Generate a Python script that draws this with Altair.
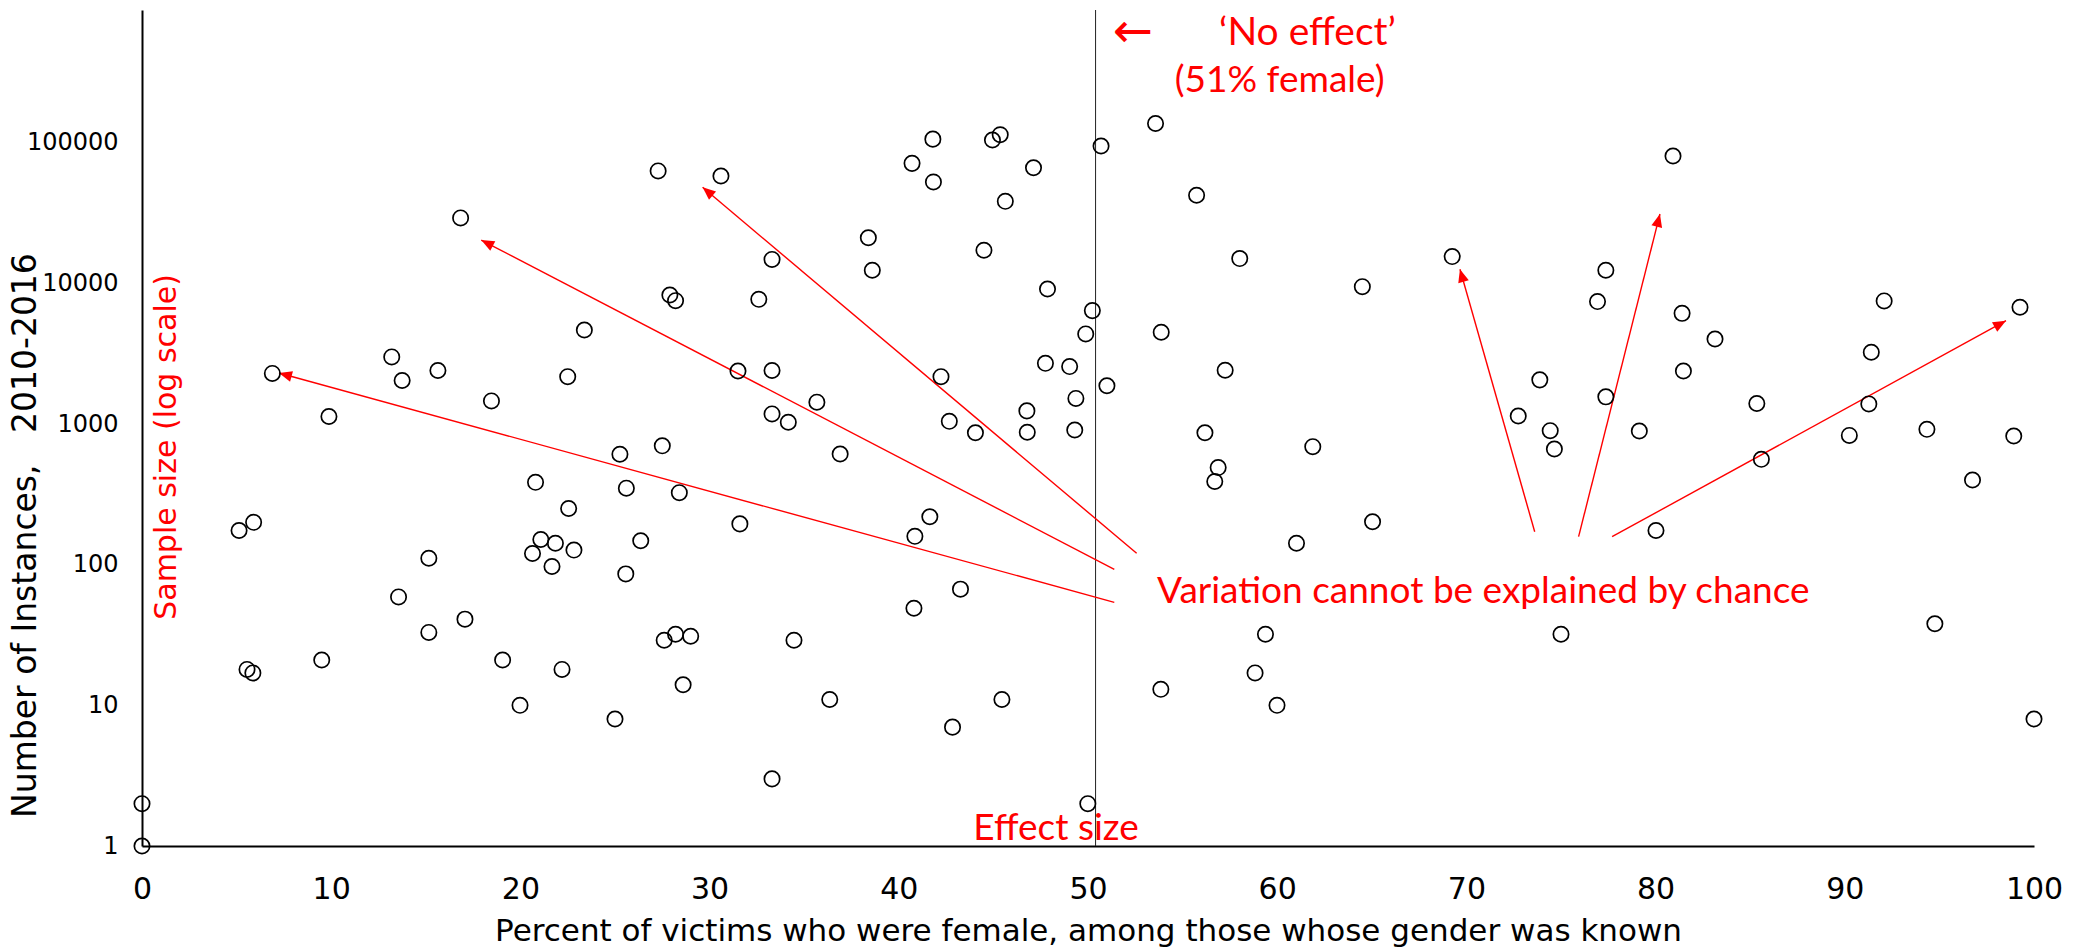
import math
import altair as alt
import pandas as pd

# ---- data ----
pct = [0, 0, 5.13, 5.9, 5.55, 5.86, 6.89, 9.88, 9.5, 13.2, 13.75, 13.56, 15.64, 15.16, 15.16,
       16.84, 17.07, 18.47, 19.06, 19.98, 20.8, 20.64, 21.08, 21.85, 21.67, 22.2, 22.5, 22.55,
       22.83, 23.38, 25.0, 25.26, 25.6, 25.57, 26.36, 27.28, 27.5, 27.6, 27.9, 28.2, 28.2, 28.4,
       28.6, 29.0, 30.6, 31.5, 31.6, 32.6, 33.3, 33.3, 33.3, 33.3, 34.16, 34.46, 35.67, 36.35,
       36.9, 38.39, 38.6, 40.7, 40.85, 40.8, 41.64, 41.8, 41.83, 42.23, 42.67, 42.84, 43.26,
       44.05, 44.5, 44.95, 45.36, 45.45, 45.63, 46.77, 46.79, 47.12, 47.75, 47.86, 49.03, 49.36,
       49.3, 49.88, 50.23, 49.99, 50.69, 51.0, 53.57, 53.85, 53.87, 55.74, 56.18, 56.7, 56.88,
       57.25, 58.02, 58.83, 59.38, 59.99, 61.02, 61.88, 64.5, 65.04, 69.25, 72.74, 73.88, 74.43,
       74.65, 75.0, 76.93, 77.37, 77.37, 79.14, 80.02, 80.92, 81.4, 81.47, 83.14, 85.35, 85.59,
       90.24, 91.27, 91.4, 92.08, 94.34, 94.76, 96.75, 98.93, 99.26, 100]
count = [2, 1, 175, 200, 18, 17, 2290, 1130, 21, 3000, 2040, 59, 2400, 111, 33,
         29200, 41, 1460, 21, 10, 385, 120, 151, 142, 97, 18, 2170, 251,
         127, 4660, 8, 610, 350, 86, 148, 63000, 700, 29, 8260, 7530, 32, 325,
         14, 31, 58000, 2380, 195, 7700, 14800, 2400, 1180, 3, 1030, 29, 1430, 11,
         612, 21100, 12400, 71300, 159, 49, 219, 106000, 52600, 2170, 1045, 7, 67,
         867, 17200, 104500, 114000, 11, 38300, 1240, 874, 66400, 2700, 9120, 2560, 1520,
         907, 4370, 6400, 2, 94800, 1870, 137000, 13, 4490, 42300, 867, 390, 490,
         2410, 15000, 17, 32, 10, 142, 690, 9470, 202, 15500, 1140, 2060, 897,
         664, 32, 7420, 12400, 1560, 892, 175, 80400, 6120, 2380, 4020, 1400, 561,
         830, 1390, 3240, 7500, 917, 38, 400, 822, 6760, 8]

x_ticks = [0, 10, 20, 30, 40, 50, 60, 70, 80, 90, 100]
y_ticks = [1, 10, 100, 1000, 10000, 100000]

no_effect_pct = [50.4]

# annotation arrows (data units)
arrow_start_pct = [51.39, 51.39, 52.57, 73.61, 75.93, 77.70]
arrow_start_count = [54.0, 92.7, 120.5, 171.6, 158.1, 158.1]
arrow_tip_pct = [7.24, 17.93, 29.63, 69.66, 80.23, 98.52]
arrow_tip_count = [2305, 20330, 48200, 12590, 31120, 5428]

# annotation texts (data units)
calibri_text = ["Variation cannot be explained by chance", "Effect size", "\u2018No effect\u2019", "(51% female)"]
calibri_pct = [53.65, 48.31, 61.6, 60.13]
calibri_count = [53.2, 1.103, 495000, 230300]
calibri_align = ["left", "center", "center", "center"]
calibri_size = [37, 37, 39, 37]

W, H = 1892, 836
YMAX = 877800

x_scale = alt.Scale(domain=[0, 100], nice=False, zero=False)
y_scale = alt.Scale(type="log", domain=[1, YMAX], nice=False)

x_axis = alt.Axis(
    values=x_ticks, title="Percent of victims who were female, among those whose gender was known",
    labelFont="DejaVu Sans", labelFontSize=30, labelColor="black", labelPadding=28,
    labelFlush=False, labelOverlap=False, ticks=False, tickSize=0, grid=False,
    domainColor="black", domainWidth=2,
    titleFont="DejaVu Sans", titleFontSize=31, titleFontWeight="normal", titleColor="black",
    titleY=94, titleBaseline="alphabetic",
)
y_axis = alt.Axis(
    values=y_ticks, format="d", title="Number of Instances,\u00a0\u00a0\u00a02010-2016",
    labelFont="DejaVu Sans", labelFontSize=24, labelColor="black", labelPadding=24,
    labelFlush=False, labelOverlap=False, ticks=False, tickSize=0, grid=False,
    domainColor="black", domainWidth=2,
    titleFont="DejaVu Sans", titleFontSize=33, titleFontWeight="normal", titleColor="black",
    titleAngle=270, titleX=-107, titleY=525, titleAlign="center", titleBaseline="alphabetic",
)

X = lambda f: alt.X(f, type="quantitative", scale=x_scale, axis=x_axis)
Y = lambda f: alt.Y(f, type="quantitative", scale=y_scale, axis=y_axis)

pts = pd.DataFrame({"pct": pct, "count": count})
points = alt.Chart(pts).mark_point(
    shape="circle", filled=False, stroke="black", strokeWidth=1.7, size=235, opacity=1
).encode(x=X("pct"), y=Y("count"))

vline = alt.Chart(pd.DataFrame({"pct": no_effect_pct})).mark_rule(
    color="#222222", strokeWidth=1
).encode(x=X("pct"))

# arrows
def px(v):
    return v / 100.0 * W

def py(c):
    return H * (1 - math.log10(c) / math.log10(YMAX))

angles = []
for sp, sc, tp, tc in zip(arrow_start_pct, arrow_start_count, arrow_tip_pct, arrow_tip_count):
    dx = px(tp) - px(sp)
    dy = py(tc) - py(sc)
    angles.append((math.degrees(math.atan2(dx, -dy)) + 360) % 360)

arr = pd.DataFrame({
    "pct": arrow_start_pct, "count": arrow_start_count,
    "pct2": arrow_tip_pct, "count2": arrow_tip_count,
})
arrow_lines = alt.Chart(arr).mark_rule(color="#FF0000", strokeWidth=1.4).encode(
    x=X("pct"), y=Y("count"), x2="pct2:Q", y2="count2:Q"
)
heads = pd.DataFrame({"pct": arrow_tip_pct, "count": arrow_tip_count, "angle": angles})
arrow_heads = alt.Chart(heads).mark_point(
    shape="M0,0 L-0.42,1 L0.42,1 Z", filled=True, fill="#FF0000",
    strokeWidth=0, size=676, opacity=1
).encode(x=X("pct"), y=Y("count"), angle=alt.Angle("angle:Q", scale=None))

cal = pd.DataFrame({"pct": calibri_pct, "count": calibri_count, "label": calibri_text,
                    "align": calibri_align, "fs": calibri_size})
cal_left = alt.Chart(cal[cal["align"] == "left"]).mark_text(
    font="Lato", color="#FF0000", align="left", baseline="alphabetic"
).encode(x=X("pct"), y=Y("count"), text="label:N", size=alt.Size("fs:Q", scale=None, legend=None))
cal_center = alt.Chart(cal[cal["align"] == "center"]).mark_text(
    font="Lato", color="#FF0000", align="center", baseline="alphabetic"
).encode(x=X("pct"), y=Y("count"), text="label:N", size=alt.Size("fs:Q", scale=None, legend=None))

arrow_sym = alt.Chart(pd.DataFrame({"pct": [52.38], "count": [600000], "label": ["\u2190"]})).mark_text(
    font="DejaVu Sans", fontSize=48, color="#FF0000", align="center", baseline="middle"
).encode(x=X("pct"), y=Y("count"), text="label:N")

sample = alt.Chart(pd.DataFrame({"pct": [1.80], "count": [687], "label": ["Sample size (log scale)"]})).mark_text(
    font="DejaVu Sans", fontSize=30, color="#FF0000", align="center", baseline="alphabetic", angle=270
).encode(x=X("pct"), y=Y("count"), text="label:N")

chart = alt.layer(
    vline, arrow_lines, arrow_heads, points, cal_left, cal_center, arrow_sym, sample
).properties(
    width=W, height=H,
    autosize=alt.AutoSizeParams(type="none"),
    padding={"left": 134, "top": 2, "right": 30, "bottom": 106},
    background="white",
).configure_view(stroke=None)

chart.save("out.html", embed_options={"renderer": "svg", "actions": False})
